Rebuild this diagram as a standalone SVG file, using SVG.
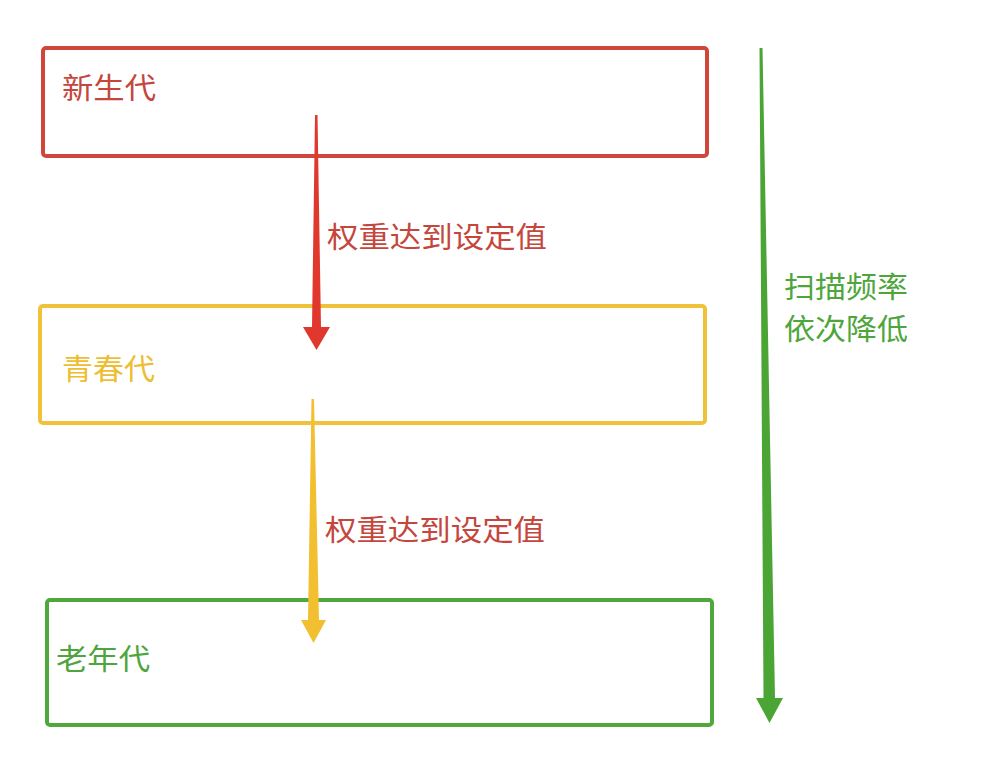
<svg xmlns="http://www.w3.org/2000/svg" width="992" height="759" viewBox="0 0 992 759">
<style>
.box{fill:#fff;stroke-width:4;}
.t{font-family:"Noto Sans CJK SC","Noto Sans CJK JP",sans-serif;font-size:29px;}
.red{fill:#c4463d;}
.yel{fill:#eebd32;}
.grn{fill:#4ea53c;}
</style>
<rect width="992" height="759" fill="#fff"/>
<g id="node-young">
<rect class="box" x="43" y="48" width="664" height="108" rx="3" stroke="#d0463a"/>
<text class="t red" x="62" y="99" textLength="94" lengthAdjust="spacingAndGlyphs">新生代</text>
</g>
<g id="node-adolescent">
<rect class="box" x="40" y="306" width="665" height="117" rx="3" stroke="#f0c23a"/>
<text class="t yel" x="62" y="380" textLength="93" lengthAdjust="spacingAndGlyphs">青春代</text>
</g>
<g id="node-old">
<rect class="box" x="47" y="600" width="665" height="125" rx="3" stroke="#4ea83a"/>
<text class="t grn" x="56" y="670" textLength="94" lengthAdjust="spacingAndGlyphs">老年代</text>
</g>
<g id="connectors">
<polygon points="315,115 317.5,115 321,327 330,327 316.5,350 303,327 312,327" fill="#e0382c"/>
<polygon points="311.5,399 314,399 319,620 326,620 313.5,643 301,620 308,620" fill="#f2bf30"/>
<polygon points="759.5,48 762.5,48 775,698 783,698 769.5,723 756,698 763.5,698" fill="#4aa535"/>
<text class="t red" x="327" y="248" textLength="220" lengthAdjust="spacingAndGlyphs">权重达到设定值</text>
<text class="t red" x="325" y="541" textLength="220" lengthAdjust="spacingAndGlyphs">权重达到设定值</text>
<text class="t grn" x="784" y="298" textLength="124" lengthAdjust="spacingAndGlyphs">扫描频率</text>
<text class="t grn" x="784" y="340" textLength="124" lengthAdjust="spacingAndGlyphs">依次降低</text>
</g>
</svg>
